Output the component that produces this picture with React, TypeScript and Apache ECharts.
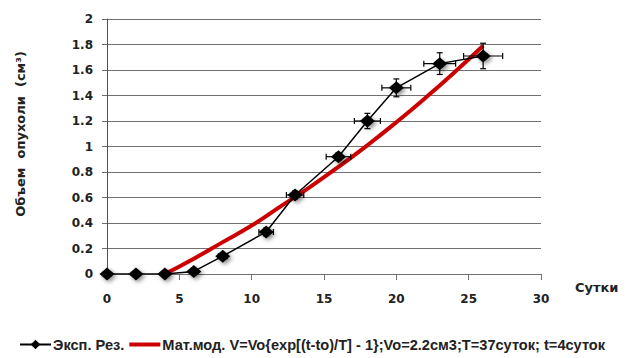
import React, { useEffect, useRef } from "react";
import * as echarts from "echarts";

const days = [0, 2, 4, 6, 8, 11, 13, 16, 18, 20, 23, 26];
const volume = [0, 0, 0, 0.02, 0.14, 0.33, 0.62, 0.92, 1.2, 1.46, 1.65, 1.71];
const xErr = [0, 0, 0, 0, 0.3, 0.5, 0.6, 0.85, 0.9, 1.0, 1.1, 1.35];
const yErr = [0, 0, 0, 0, 0.02, 0.03, 0.03, 0.03, 0.06, 0.07, 0.085, 0.1];

const modelT = [4, 6, 8, 10, 12, 14, 16, 18, 20, 22, 24, 26];
const modelV = [0, 0.12, 0.25, 0.38, 0.53, 0.68, 0.84, 1.01, 1.19, 1.38, 1.58, 1.79];

const expName = "Эксп. Рез.";
const modelName = "Мат.мод. V=Vo{exp[(t-to)/T] - 1};Vo=2.2см3;T=37суток; t=4суток";
const yName = "Объем  опухоли  (см³)";
const xName = "Сутки";

export default function App() {
  const ref = useRef<HTMLDivElement>(null);
  useEffect(() => {
    if (!ref.current) return;
    const chart = echarts.init(ref.current, undefined, { renderer: "svg" });
    const axisFont = { fontFamily: "DejaVu Sans", fontWeight: "bold" as const, fontSize: 12, color: "#222" };
    chart.setOption({
      animation: false,
      backgroundColor: "#fff",
      grid: { left: 107, right: 84, top: 19, bottom: 84, containLabel: false },
      legend: {
        left: 14,
        top: 332,
        itemWidth: 31,
        itemHeight: 12,
        itemGap: 5,
        textStyle: { fontFamily: "Liberation Sans", fontWeight: "bold", fontSize: 14.6, color: "#222", padding: [0, 0, 0, -3] },
        data: [
          { name: expName },
          { name: modelName, icon: "path://M0,0H31V4H0Z" },
        ],
      },
      xAxis: {
        type: "value",
        min: 0,
        max: 30,
        interval: 5,
        axisLine: { show: true, onZero: false, lineStyle: { color: "#707070", width: 1 } },
        axisTick: { show: true, inside: false, length: 6, lineStyle: { color: "#707070" } },
        axisLabel: { ...axisFont, margin: 19 },
        splitLine: { show: false },
      },
      yAxis: {
        type: "value",
        min: 0,
        max: 2,
        interval: 0.2,
        axisLine: { show: true, lineStyle: { color: "#505050", width: 1 } },
        axisTick: { show: true, inside: false, length: 5, lineStyle: { color: "#707070" } },
        axisLabel: { ...axisFont, margin: 14 },
        splitLine: { show: true, lineStyle: { color: "#707070", width: 1 } },
      },
      graphic: [
        {
          type: "text",
          x: 20,
          y: 134,
          rotation: Math.PI / 2,
          style: {
            text: yName,
            fontFamily: "DejaVu Sans",
            fontWeight: "bold",
            fontSize: 13,
            fill: "#222",
            align: "center",
            verticalAlign: "middle",
          },
        },
        {
          type: "text",
          x: 575,
          y: 287,
          style: {
            text: xName,
            fontFamily: "DejaVu Sans",
            fontWeight: "bold",
            fontSize: 13,
            fill: "#222",
            align: "left",
            verticalAlign: "middle",
          },
        },
      ],
      series: [
        {
          name: modelName,
          type: "line",
          smooth: true,
          symbol: "none",
          data: modelT.map((t, i) => [t, modelV[i]]),
          lineStyle: { color: "#cc0000", width: 4 },
          itemStyle: { color: "#cc0000" },
          z: 3,
        },
        {
          name: expName,
          type: "line",
          data: days.map((d, i) => [d, volume[i]]),
          symbol: "diamond",
          symbolSize: [15, 13],
          lineStyle: { color: "#000", width: 1.5 },
          itemStyle: { color: "#000", shadowBlur: 4, shadowColor: "rgba(0,0,0,0.45)", shadowOffsetX: 2, shadowOffsetY: 2 },
          z: 4,
        },
        {
          name: "err",
          type: "custom",
          data: days.map((d, i) => [d, volume[i], xErr[i], yErr[i]]),
          encode: { x: 0, y: 1 },
          z: 5,
          renderItem: (params: any, api: any) => {
            const x = api.value(0);
            const y = api.value(1);
            const ex = api.value(2);
            const ey = api.value(3);
            const children: any[] = [];
            const st = { stroke: "#000", lineWidth: 1.2 };
            const cap = 3;
            if (ex > 0) {
              const a = api.coord([x - ex, y]);
              const b = api.coord([x + ex, y]);
              children.push({ type: "line", shape: { x1: a[0], y1: a[1], x2: b[0], y2: b[1] }, style: st });
              children.push({ type: "line", shape: { x1: a[0], y1: a[1] - cap, x2: a[0], y2: a[1] + cap }, style: st });
              children.push({ type: "line", shape: { x1: b[0], y1: b[1] - cap, x2: b[0], y2: b[1] + cap }, style: st });
            }
            if (ey > 0) {
              const a = api.coord([x, y - ey]);
              const b = api.coord([x, y + ey]);
              children.push({ type: "line", shape: { x1: a[0], y1: a[1], x2: b[0], y2: b[1] }, style: st });
              children.push({ type: "line", shape: { x1: a[0] - cap, y1: a[1], x2: a[0] + cap, y2: a[1] }, style: st });
              children.push({ type: "line", shape: { x1: b[0] - cap, y1: b[1], x2: b[0] + cap, y2: b[1] }, style: st });
            }
            return { type: "group", children };
          },
        },
      ],
    });
    return () => chart.dispose();
  }, []);
  return <div ref={ref} style={{ width: 625, height: 358, position: "fixed", left: 0, top: 0 }} />;
}
